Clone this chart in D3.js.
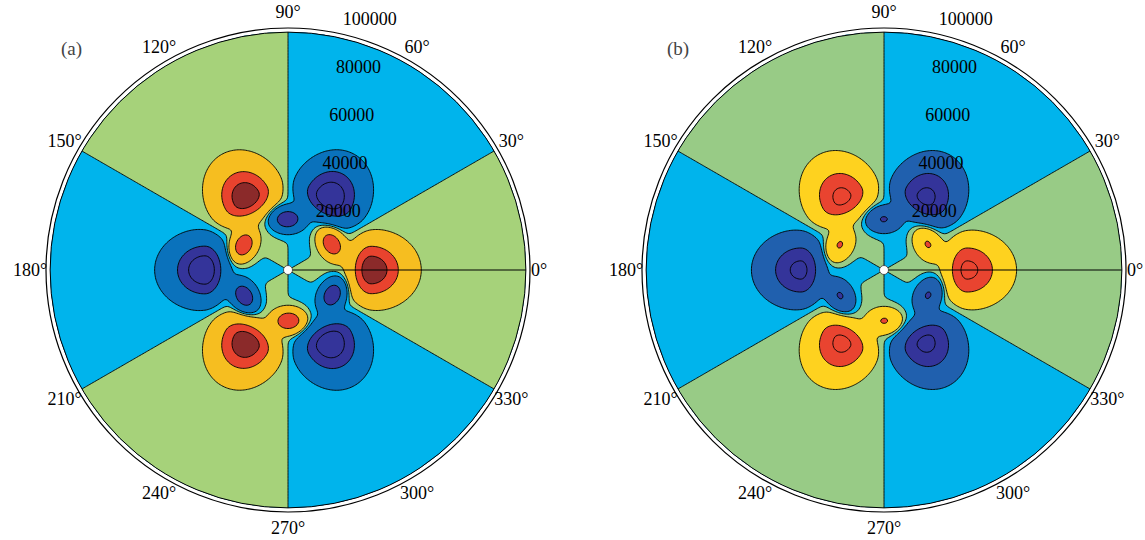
<!DOCTYPE html>
<html>
<head>
<meta charset="utf-8">
<script src="https://cdn.jsdelivr.net/npm/d3@7"></script>
<style>
  body { margin: 0; background: #ffffff; }
  svg { display: block; }
</style>
</head>
<body>
<div id="chart"></div>
<script>
const width = 1145;
const height = 540;

// polar axes
const angleTicks = [0, 30, 60, 90, 120, 150, 180, 210, 240, 270, 300, 330];
const radialTicks = [20000, 40000, 60000, 80000, 100000];
const rMax = 100000;   // outer ring of the axes
const rData = 98300;   // edge of the plotted field

// contour levels of the field and the fill of each band (lowest band first)
const levels = [-0.85, -0.55, -0.1, 0, 0.1, 0.55, 0.85];
const fillsA = ['#34349a', '#34349a', '#0a72bc', '#00b4ec', '#a6d27a', '#f6be20', '#e8432e', '#8b2a2a'];
const fillsB = ['#34349a', '#34349a', '#2060ae', '#00b4ec', '#98cb86', '#fed21f', '#e94430', '#e94430'];

// lobes of the field: centre angle (deg) and radius
const lobeAngle  = [0, 120, 240, 60, 180, 300, 31, 151, 271, 91, 211, 331];
const lobeRadius = [34300, 34300, 34300, 34300, 34300, 34300, 21000, 21000, 21000, 21000, 21000, 21000];
// peak value of each lobe, panel (a) and panel (b)
const lobeAmpA = [0.95, 0.95, 0.95, -0.96, -0.96, -0.96, 0.79, 0.79, 0.79, -0.78, -0.78, -0.78];
const lobeAmpB = [0.856, 0.856, 0.856, -0.856, -0.856, -0.856, 0.565, 0.565, 0.565, -0.565, -0.565, -0.565];
// spread of each lobe: radial inwards, radial outwards, tangential
const lobeSigIn  = [7900, 7900, 7900, 7900, 7900, 7900, 4800, 4800, 4800, 4800, 4800, 4800];
const lobeSigOut = [13500, 13500, 13500, 13500, 13500, 13500, 4800, 4800, 4800, 4800, 4800, 4800];
const lobeSigT   = [12000, 12000, 12000, 12000, 12000, 12000, 6500, 6500, 6500, 6500, 6500, 6500];
const lobePower = 2.5;
// weak three-fold background (green / cyan sectors)
const farAmp = 0.05;
const farCore = 25000;

const panels = [
  { label: '(a)', cx: 288, cy: 270, amps: lobeAmpA, fills: fillsA, labelX: 61 },
  { label: '(b)', cx: 884, cy: 270, amps: lobeAmpB, fills: fillsB, labelX: 667 }
];

const svg = d3.select('#chart')
  .append('svg')
  .attr('width', width)
  .attr('height', height)
  .attr('font-family', '"Liberation Serif", "Times New Roman", serif');

const rScale = d3.scaleLinear().domain([0, rMax]).range([0, 242]);
const pxPerUnit = rScale(1);
const rad = d => d * Math.PI / 180;

function fieldAt(x, y, amps) {
  const r = Math.hypot(x, y);
  const th = Math.atan2(y, x);
  const c = r / farCore;
  let v = farAmp * Math.cos(3 * th) * (1 - Math.exp(-c * c));
  for (let k = 0; k < lobeAngle.length; k++) {
    const ux = Math.cos(rad(lobeAngle[k]));
    const uy = Math.sin(rad(lobeAngle[k]));
    const dx = x - lobeRadius[k] * ux;
    const dy = y - lobeRadius[k] * uy;
    const dr = dx * ux + dy * uy;
    const dt = -dx * uy + dy * ux;
    const sr = dr < 0 ? lobeSigIn[k] : lobeSigOut[k];
    const q = (dr / sr) ** 2 + (dt / lobeSigT[k]) ** 2;
    v += amps[k] * Math.exp(-Math.pow(q, lobePower / 2));
  }
  return v;
}

// sample grid (square, a bit larger than the disk)
const n = 331;
const ext = 103000;
const step = 2 * ext / (n - 1);

function drawPanel(p, idx) {
  const g = svg.append('g').attr('class', 'panel');

  const values = new Float64Array(n * n);
  for (let j = 0; j < n; j++) {
    const y = ext - j * step;
    for (let i = 0; i < n; i++) {
      values[j * n + i] = fieldAt(-ext + i * step, y, p.amps);
    }
  }

  const contours = d3.contours().size([n, n]).thresholds(levels)(values);

  const path = d3.geoPath(d3.geoTransform({
    point(gx, gy) {
      this.stream.point(
        p.cx + (-ext + (gx - 0.5) * step) * pxPerUnit,
        p.cy + (-ext + (gy - 0.5) * step) * pxPerUnit
      );
    }
  }));

  const clipId = 'disk-' + idx;
  g.append('clipPath').attr('id', clipId)
    .append('circle')
    .attr('cx', p.cx).attr('cy', p.cy)
    .attr('r', rScale(rData));

  const field = g.append('g').attr('clip-path', `url(#${clipId})`);

  field.append('circle')
    .attr('cx', p.cx).attr('cy', p.cy)
    .attr('r', rScale(rData))
    .attr('fill', p.fills[0]);

  field.selectAll('path')
    .data(contours)
    .enter()
    .append('path')
    .attr('d', path)
    .attr('fill', (d, i) => p.fills[i + 1])
    .attr('stroke', '#000')
    .attr('stroke-width', 0.9)
    .attr('stroke-linejoin', 'round');

  // seam along 0 deg
  g.append('line')
    .attr('x1', p.cx).attr('y1', p.cy)
    .attr('x2', p.cx + rScale(rData)).attr('y2', p.cy)
    .attr('stroke', '#000')
    .attr('stroke-width', 1);

  // disk edge and outer ring
  g.append('circle')
    .attr('cx', p.cx).attr('cy', p.cy)
    .attr('r', rScale(rData))
    .attr('fill', 'none')
    .attr('stroke', '#000')
    .attr('stroke-width', 1);

  g.append('circle')
    .attr('cx', p.cx).attr('cy', p.cy)
    .attr('r', rScale(rMax))
    .attr('fill', 'none')
    .attr('stroke', '#000')
    .attr('stroke-width', 1.2);

  // centre marker
  g.append('circle')
    .attr('cx', p.cx).attr('cy', p.cy)
    .attr('r', 4.5)
    .attr('fill', '#fff')
    .attr('stroke', '#333')
    .attr('stroke-width', 0.8);

  // angle labels
  g.selectAll('text.angle')
    .data(angleTicks)
    .enter()
    .append('text')
    .attr('class', 'angle')
    .attr('x', d => p.cx + (d === 0 ? 251 : 258) * Math.cos(rad(d)))
    .attr('y', d => p.cy - 258 * Math.sin(rad(d)))
    .attr('text-anchor', 'middle')
    .attr('dominant-baseline', 'central')
    .attr('font-size', '18px')
    .attr('fill', '#000')
    .text(d => d + '°');

  // radial tick labels along 82 deg
  g.selectAll('text.rtick')
    .data(radialTicks)
    .enter()
    .append('text')
    .attr('class', 'rtick')
    .attr('x', d => p.cx + rScale(d) * Math.cos(rad(82)) + 21)
    .attr('y', d => p.cy - rScale(d) * Math.sin(rad(82)) - 11)
    .attr('text-anchor', 'start')
    .attr('dominant-baseline', 'central')
    .attr('font-size', '18px')
    .attr('fill', '#000')
    .text(d => d);

  // panel label
  g.append('text')
    .attr('x', p.labelX)
    .attr('y', 48)
    .attr('dominant-baseline', 'central')
    .attr('font-size', '19px')
    .attr('fill', '#444')
    .text(p.label);
}

panels.forEach(drawPanel);
</script>
</body>
</html>
